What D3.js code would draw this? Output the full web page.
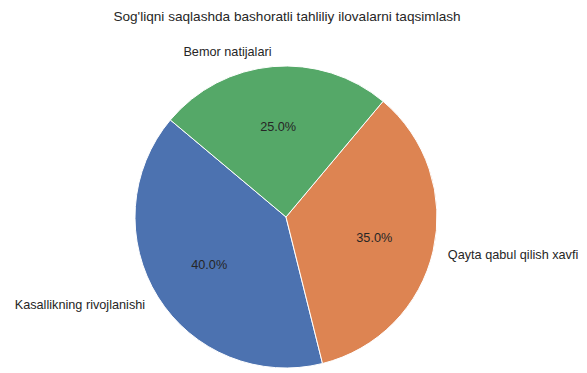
<!DOCTYPE html>
<html>
  <body style="margin:0;background:#fff">
    <script src="https://cdn.jsdelivr.net/npm/d3@7"></script>
    <script>
// pie chart of predictive analytics applications in healthcare
var width = 587, height = 373;

var labels = ["Kasallikning rivojlanishi", "Qayta qabul qilish xavfi", "Bemor natijalari"];
var values = [40, 35, 25];
var colors = ["#4c72b0", "#dd8452", "#55a868"];
var title = "Sog'liqni saqlashda bashoratli tahliliy ilovalarni taqsimlash";

var cx = 286, cy = 217, radius = 151;
var startAngle = 140; // degrees, counterclockwise like matplotlib

var svg = d3.select("body").append("svg")
  .attr("width", width)
  .attr("height", height)
  .style("font-family", "'Liberation Sans', Arial, sans-serif");

svg.append("text")
  .attr("x", cx + 1)
  .attr("y", 21)
  .attr("text-anchor", "middle")
  .attr("fill", "#262626")
  .style("font-size", "13.6px")
  .text(title);

// matplotlib goes counterclockwise from startangle; d3 goes clockwise from 12 o'clock
var toD3 = a => (90 - a) * Math.PI / 180;

var pie = d3.pie().sort(null)
  .startAngle(toD3(startAngle))
  .endAngle(toD3(startAngle) - 2 * Math.PI);

var arcs = pie(values);
var arc = d3.arc().innerRadius(0).outerRadius(radius);

var g = svg.append("g").attr("transform", "translate(" + cx + "," + cy + ")");

g.selectAll("path")
  .data(arcs)
  .join("path")
  .attr("d", arc)
  .attr("fill", (d, i) => colors[i])
  .attr("stroke", "#fff")
  .attr("stroke-width", 1);

function mid(d) { return (d.startAngle + d.endAngle) / 2; }

g.selectAll(".lbl")
  .data(arcs)
  .join("text")
  .attr("class", "lbl")
  .attr("x", d => Math.sin(mid(d)) * radius * 1.1)
  .attr("y", d => -Math.cos(mid(d)) * radius * 1.1)
  .attr("dy", "0.35em")
  .attr("text-anchor", d => Math.sin(mid(d)) < 0 ? "end" : "start")
  .attr("fill", "#262626")
  .style("font-size", "12.7px")
  .text((d, i) => labels[i]);

g.selectAll(".pct")
  .data(arcs)
  .join("text")
  .attr("class", "pct")
  .attr("x", d => Math.sin(mid(d)) * radius * 0.6)
  .attr("y", d => -Math.cos(mid(d)) * radius * 0.6)
  .attr("dy", "0.35em")
  .attr("text-anchor", "middle")
  .attr("fill", "#262626")
  .style("font-size", "12.7px")
  .text(d => d.data.toFixed(1) + "%");
</script>
  </body>
</html>
